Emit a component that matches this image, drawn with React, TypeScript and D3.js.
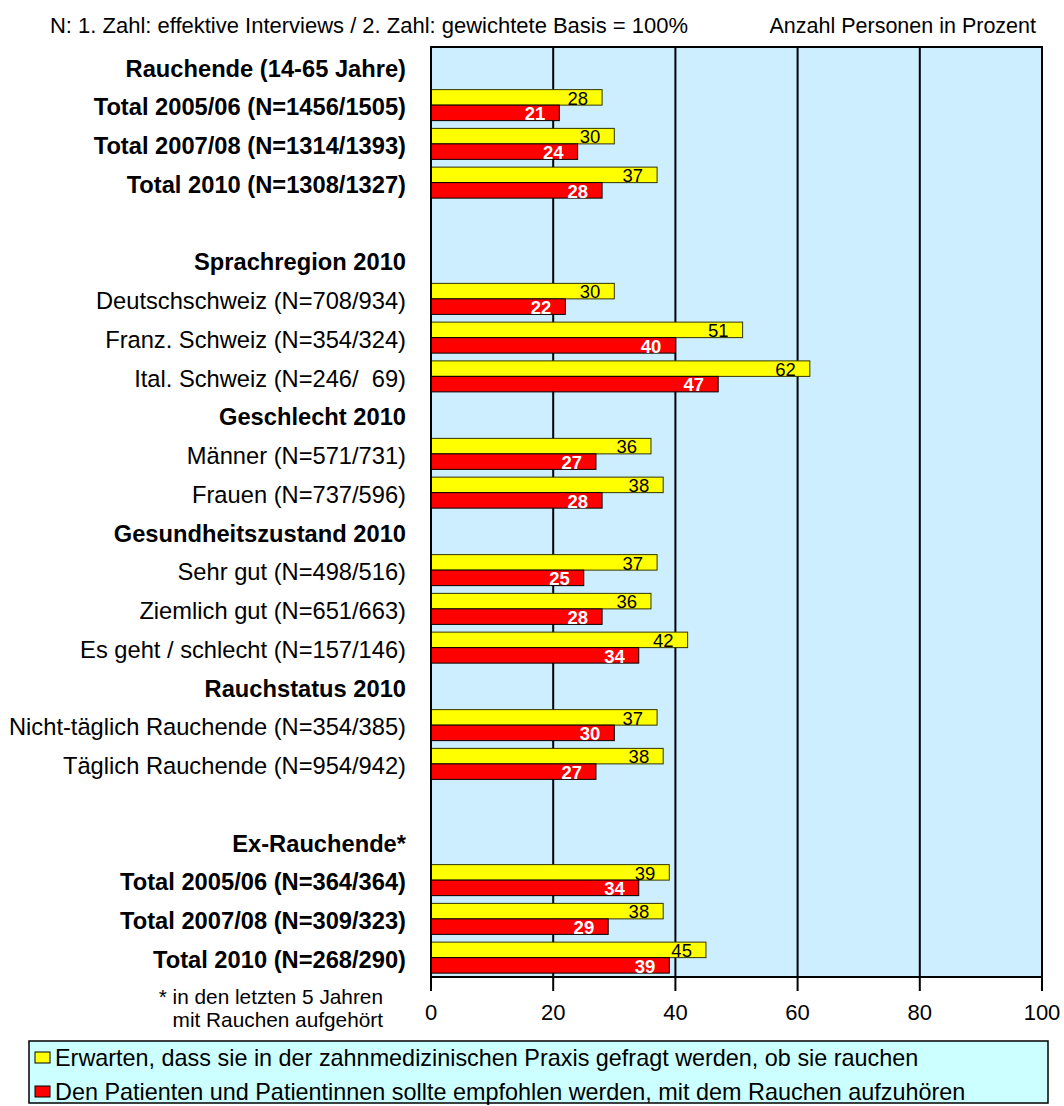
import React from "react";
import * as d3 from "d3";

// rows from top to bottom, "" = empty spacer row
const rowLabels = [
  "Rauchende (14-65 Jahre)",
  "Total 2005/06 (N=1456/1505)",
  "Total 2007/08 (N=1314/1393)",
  "Total 2010 (N=1308/1327)",
  "",
  "Sprachregion 2010",
  "Deutschschweiz (N=708/934)",
  "Franz. Schweiz (N=354/324)",
  "Ital. Schweiz (N=246/  69)",
  "Geschlecht 2010",
  "Männer (N=571/731)",
  "Frauen (N=737/596)",
  "Gesundheitszustand 2010",
  "Sehr gut (N=498/516)",
  "Ziemlich gut (N=651/663)",
  "Es geht / schlecht (N=157/146)",
  "Rauchstatus 2010",
  "Nicht-täglich Rauchende (N=354/385)",
  "Täglich Rauchende (N=954/942)",
  "",
  "Ex-Rauchende*",
  "Total 2005/06 (N=364/364)",
  "Total 2007/08 (N=309/323)",
  "Total 2010 (N=268/290)",
];
const rowBold = [
  true, true, true, true, false, true, false, false, false, true, false, false,
  true, false, false, false, true, false, false, false, true, true, true, true,
];

// Erwarten, gefragt zu werden (gelb)
const askedValues = [
  null, 28, 30, 37, null, null, 30, 51, 62, null, 36, 38,
  null, 37, 36, 42, null, 37, 38, null, null, 39, 38, 45,
];
// Empfehlung, mit dem Rauchen aufzuhören (rot)
const quitValues = [
  null, 21, 24, 28, null, null, 22, 40, 47, null, 27, 28,
  null, 25, 28, 34, null, 30, 27, null, null, 34, 29, 39,
];

const xTicks = [0, 20, 40, 60, 80, 100];
const seriesNames = ["asked", "quit"];
const legendLabels = [
  "Erwarten, dass sie in der zahnmedizinischen Praxis gefragt werden, ob sie rauchen",
  "Den Patienten und Patientinnen sollte empfohlen werden, mit dem Rauchen aufzuhören",
];
const seriesColors = ["#FFFF00", "#FF0000"];

const W = 1064;
const H = 1106;
const plot = { left: 431, right: 1042, top: 47, bottom: 977 };
const font = "'Liberation Sans', Arial, sans-serif";

export default function App() {
  const x = d3.scaleLinear().domain([0, 100]).range([plot.left, plot.right]);
  const y = d3
    .scaleBand<number>()
    .domain(d3.range(rowLabels.length))
    .range([plot.top, plot.bottom])
    .padding(0);
  const sub = d3
    .scaleBand<string>()
    .domain(seriesNames)
    .range([0, y.bandwidth()])
    .paddingInner(0)
    .paddingOuter(0.25);

  const series = [askedValues, quitValues];

  return (
    <svg
      width={W}
      height={H}
      style={{ position: "absolute", left: 0, top: 0, fontFamily: font }}
    >
      <rect width={W} height={H} fill="#fff" />

      {/* header notes */}
      <text x={50} y={33} fontSize={21.5} textLength={638} lengthAdjust="spacingAndGlyphs">
        N: 1. Zahl: effektive Interviews / 2. Zahl: gewichtete Basis = 100%
      </text>
      <text x={1036} y={33} fontSize={21.5} textAnchor="end">
        Anzahl Personen in Prozent
      </text>

      {/* plot background */}
      <rect
        x={plot.left}
        y={plot.top}
        width={plot.right - plot.left}
        height={plot.bottom - plot.top}
        fill="#CCEEFF"
      />

      {/* grid lines */}
      {xTicks.slice(1, -1).map((t) => (
        <line key={t} x1={x(t)} x2={x(t)} y1={plot.top} y2={plot.bottom} stroke="#000" strokeWidth={2} />
      ))}

      {/* bars */}
      {rowLabels.map((_, i) =>
        series.map((vals, s) => {
          const v = vals[i];
          if (v == null) return null;
          const y0 = (y(i) as number) + (sub(seriesNames[s]) as number);
          const h = sub.bandwidth();
          return (
            <g key={`${i}-${s}`}>
              <rect
                x={x(0)}
                y={y0}
                width={x(v) - x(0)}
                height={h}
                fill={seriesColors[s]}
                stroke={s === 0 ? "#333300" : "#000"}
                strokeWidth={1}
              />
              <text
                x={x(v) - 14}
                y={y0 + h - 0.5}
                textAnchor="end"
                fontSize={18.5}
                fontWeight={s === 0 ? "normal" : "bold"}
                fill={s === 0 ? "#000" : "#fff"}
              >
                {v}
              </text>
            </g>
          );
        })
      )}

      {/* plot frame */}
      <rect
        x={plot.left}
        y={plot.top}
        width={plot.right - plot.left}
        height={plot.bottom - plot.top}
        fill="none"
        stroke="#000"
        strokeWidth={2}
      />

      {/* row labels */}
      {rowLabels.map((lab, i) => (
        <text
          key={i}
          x={406}
          y={(y(i) as number) + y.bandwidth() / 2 + 2}
          dy="0.35em"
          textAnchor="end"
          fontSize={23.7}
          fontWeight={rowBold[i] ? "bold" : "normal"}
          style={{ whiteSpace: "pre" }}
        >
          {lab}
        </text>
      ))}

      {/* x axis */}
      {xTicks.map((t) => (
        <g key={t}>
          <line x1={x(t)} x2={x(t)} y1={plot.bottom} y2={plot.bottom + 14} stroke="#000" strokeWidth={2} />
          <text x={x(t)} y={1020} textAnchor="middle" fontSize={22}>
            {t}
          </text>
        </g>
      ))}

      {/* footnote */}
      <text x={383} y={1004} textAnchor="end" fontSize={20.8}>
        * in den letzten 5 Jahren
      </text>
      <text x={383} y={1027} textAnchor="end" fontSize={20.8}>
        mit Rauchen aufgehört
      </text>

      {/* legend */}
      <rect x={29} y={1041} width={1019} height={62} fill="#CCFFFF" stroke="#000" strokeWidth={1.5} />
      {legendLabels.map((lab, i) => (
        <g key={i}>
          <rect x={35} y={1052 + i * 34} width={15} height={11} fill={seriesColors[i]} stroke="#000" strokeWidth={1} />
          <text x={55} y={1066 + i * 34} fontSize={23.4}>
            {lab}
          </text>
        </g>
      ))}
    </svg>
  );
}
